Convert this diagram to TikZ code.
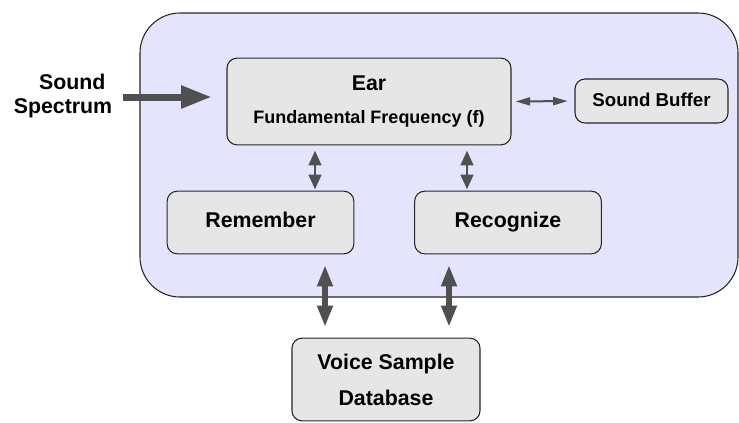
\documentclass[tikz,border=0pt]{standalone}
\usepackage{fontspec}
\setmainfont{Liberation Sans}
\usetikzlibrary{arrows.meta}
\definecolor{panel}{HTML}{E4E4FC}
\definecolor{boxgray}{HTML}{E6E6E6}
\definecolor{arrowgray}{HTML}{505050}

\begin{document}
\begin{tikzpicture}[%
  x=0.75pt, y=-0.75pt,
  box/.style={draw=black!85, fill=boxgray, rounded corners=7.5pt, line width=0.8pt,
    font=\fontsize{16}{18}\selectfont\bfseries, align=center, inner sep=0pt},
  oneline/.style={text height=11.5pt, text depth=3.5pt},
  twoway/.style={arrowgray, line width=#1, {Triangle[length=11pt,width=9.5pt]}-{Triangle[length=11pt,width=9.5pt]}},
  twoway/.default=1.8pt]
\useasboundingbox (0,0) rectangle (739,422);

% panel
\draw[draw=black!85, fill=panel, line width=0.8pt, rounded corners=30pt]
  (140,13) rectangle (738,297);

\node[box, minimum width=213pt, minimum height=65pt] (ear) at (369,101.5)
  {Ear\\[7pt]{\fontsize{13.5}{15}\selectfont Fundamental Frequency (f)}};
\node[box, oneline, minimum width=114.75pt, minimum height=33pt,
  font=\fontsize{14}{16}\selectfont\bfseries] (buffer) at (651.5,101) {Sound Buffer};
\node[box, oneline, minimum width=140pt, minimum height=47pt] (remember) at (260.5,222.5) {Remember};
\node[box, oneline, minimum width=140pt, minimum height=47pt] (recognize) at (508,222.5) {Recognize};
\node[box, minimum width=141pt, minimum height=62pt] (db) at (386,379.5)
  {Voice Sample\\[9pt]Database};
\node[font=\fontsize{16}{18}\selectfont\bfseries, align=center] (spectrum) at (63,96)
  {\hspace*{14pt}Sound\\Spectrum};

\coordinate (left1) at (315,0);
\coordinate (right1) at (467,0);
\coordinate (left2) at (325,0);
\coordinate (right2) at (449,0);

% connectors
\draw[arrowgray, line width=5.25pt, -{Triangle[length=23pt,width=16pt]}]
  (spectrum.east) ++(6,1) coordinate (in) -- (in -| ear.west) [shorten >=11pt];
\draw[twoway=1.5pt, {Triangle[length=11pt,width=6pt]}-{Triangle[length=11pt,width=6pt]},
  shorten <=3pt, shorten >=5pt] (ear.east) -- (buffer.west);
\draw[twoway, shorten <=4pt, shorten >=1pt] (ear.south -| left1) -- (remember.north -| left1);
\draw[twoway, shorten <=4pt, shorten >=1pt] (ear.south -| right1) -- (recognize.north -| right1);
\draw[twoway=4.5pt, {Triangle[length=16pt,width=11pt]}-{Triangle[length=16pt,width=11pt]},
  shorten <=8pt, shorten >=8pt] (remember.south -| left2) -- (db.north -| left2);
\draw[twoway=4.5pt, {Triangle[length=16pt,width=11pt]}-{Triangle[length=16pt,width=11pt]},
  shorten <=8pt, shorten >=8pt] (recognize.south -| right2) -- (db.north -| right2);
\end{tikzpicture}
\end{document}
